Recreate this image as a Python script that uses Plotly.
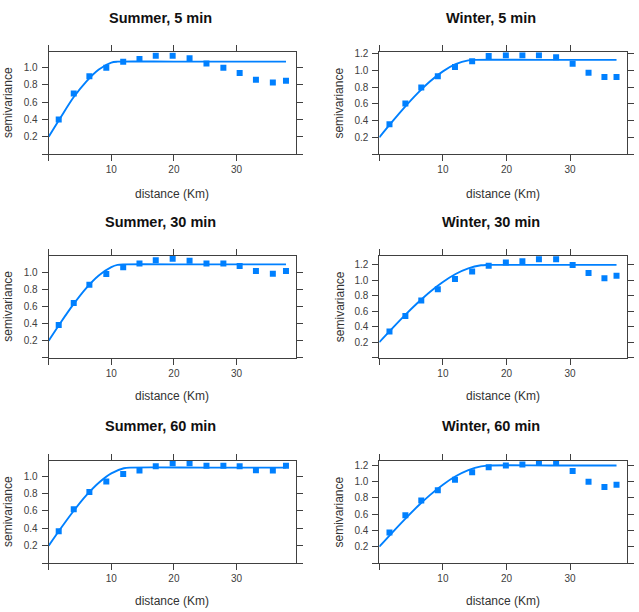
import plotly.graph_objects as go

# ---- data ----
titles = ["Summer, 5 min", "Winter, 5 min",
          "Summer, 30 min", "Winter, 30 min",
          "Summer, 60 min", "Winter, 60 min"]

dist_summer = [1.6, 4.0, 6.5, 9.2, 11.9, 14.5, 17.1, 19.8, 22.5, 25.2, 27.9, 30.5, 33.1, 35.8, 37.9]
dist_winter = [1.6, 4.1, 6.6, 9.2, 11.9, 14.6, 17.2, 19.9, 22.5, 25.1, 27.8, 30.4, 32.9, 35.4, 37.3]

s5 = [0.40, 0.70, 0.90, 1.00, 1.07, 1.10, 1.14, 1.14, 1.11, 1.05, 1.00, 0.94, 0.86, 0.83, 0.85]
w5 = [0.355, 0.605, 0.795, 0.93, 1.04, 1.11, 1.17, 1.18, 1.18, 1.18, 1.156, 1.08, 0.97, 0.92, 0.92]
s30 = [0.385, 0.644, 0.857, 0.985, 1.062, 1.108, 1.147, 1.162, 1.139, 1.108, 1.108, 1.077, 1.019, 0.988, 1.019]
w30 = [0.34, 0.54, 0.74, 0.885, 1.017, 1.115, 1.19, 1.23, 1.247, 1.272, 1.272, 1.2, 1.094, 1.026, 1.06]
s60 = [0.365, 0.621, 0.82, 0.939, 1.027, 1.065, 1.115, 1.149, 1.149, 1.122, 1.122, 1.115, 1.069, 1.065, 1.122]
w60 = [0.375, 0.586, 0.765, 0.891, 1.021, 1.111, 1.172, 1.196, 1.208, 1.224, 1.224, 1.127, 0.997, 0.932, 0.96]

# fitted model lines
s5_line_x = [0, 2, 4, 6, 8, 10, 11, 20, 37.9]
s5_line_y = [0.2, 0.435, 0.66, 0.84, 0.98, 1.06, 1.07, 1.07, 1.07]
w5_line_x = [0, 2, 4, 6, 8, 10, 12, 14, 15, 25, 37.3]
w5_line_y = [0.2, 0.384, 0.561, 0.725, 0.87, 0.988, 1.073, 1.119, 1.125, 1.125, 1.125]
s30_line_x = [0, 2, 4, 6, 8, 10, 11, 12, 24, 37.9]
s30_line_y = [0.2, 0.423, 0.633, 0.819, 0.967, 1.065, 1.091, 1.097, 1.097, 1.097]
w30_line_x = [0, 2, 4, 6, 8, 10, 12, 14, 16, 17, 27, 37.3]
w30_line_y = [0.2, 0.376, 0.547, 0.707, 0.854, 0.98, 1.083, 1.156, 1.195, 1.2, 1.2, 1.2]
s60_line_x = [0, 2, 4, 6, 8, 10, 12, 13, 25, 37.9]
s60_line_y = [0.2, 0.406, 0.602, 0.779, 0.926, 1.034, 1.092, 1.1, 1.1, 1.1]
w60_line_x = [0, 2, 4, 6, 8, 10, 12, 14, 16, 17.5, 27, 37.3]
w60_line_y = [0.2, 0.37, 0.535, 0.692, 0.835, 0.96, 1.063, 1.139, 1.184, 1.195, 1.195, 1.195]

x_ticks = [0, 10, 20, 30]
x_ticktext = ["", "10", "20", "30"]

panels = [
    (dist_summer, s5, s5_line_x, s5_line_y, 39.5, 1.18, [0, 0.2, 0.4, 0.6, 0.8, 1.0]),
    (dist_winter, w5, w5_line_x, w5_line_y, 38.9, 1.217, [0, 0.2, 0.4, 0.6, 0.8, 1.0, 1.2]),
    (dist_summer, s30, s30_line_x, s30_line_y, 39.5, 1.2, [0, 0.2, 0.4, 0.6, 0.8, 1.0]),
    (dist_winter, w30, w30_line_x, w30_line_y, 38.9, 1.32, [0, 0.2, 0.4, 0.6, 0.8, 1.0, 1.2]),
    (dist_summer, s60, s60_line_x, s60_line_y, 39.5, 1.176, [0, 0.2, 0.4, 0.6, 0.8, 1.0]),
    (dist_winter, w60, w60_line_x, w60_line_y, 38.9, 1.25, [0, 0.2, 0.4, 0.6, 0.8, 1.0, 1.2]),
]

# ---- layout geometry (pixels) ----
W, H = 639, 612
col_box = [(48.7, 296.0), (379.3, 626.7)]
row_box = [(48.5, 151.0), (253.3, 356.0), (460.0, 562.7)]
title_x = [160.0, 490.5]
title_y = [14.3, 219.2, 425.0]
xtitle_y = [190.8, 395.0, 601.3]
ytitle_x = [8.0, 339.5]

BLUE = "#0080ff"
AX = "#404040"
FONT = "Liberation Sans, Arial, sans-serif"

fig = go.Figure()
layout = dict(width=W, height=H, margin=dict(l=0, r=0, t=0, b=0),
              paper_bgcolor="white", plot_bgcolor="white", showlegend=False,
              font=dict(family=FONT, size=10, color=AX))
annotations = []

for i, (dx, dy, lx, ly, xmax, ymax, yt) in enumerate(panels):
    r, c = divmod(i, 2)
    n = "" if i == 0 else str(i + 1)
    xa, ya = "x" + n, "y" + n
    x0, x1 = col_box[c]
    y0, y1 = row_box[r]
    fig.add_trace(go.Scatter(x=lx, y=ly, mode="lines", xaxis=xa, yaxis=ya,
                             line=dict(color=BLUE, width=1.9, shape="spline", smoothing=0.8),
                             hoverinfo="skip"))
    fig.add_trace(go.Scatter(x=dx, y=dy, mode="markers", xaxis=xa, yaxis=ya,
                             marker=dict(symbol="square", size=6, color=BLUE,
                                         line=dict(width=0))))
    common = dict(showline=True, linecolor=AX, linewidth=1, mirror="ticks",
                  ticks="outside", ticklen=6, tickcolor=AX, tickwidth=1,
                  showgrid=False, zeroline=False,
                  tickfont=dict(family=FONT, size=10, color=AX))
    layout["xaxis" + n] = dict(common, domain=[x0 / W, x1 / W], anchor=ya,
                               range=[0, xmax], tickmode="array",
                               tickvals=x_ticks, ticktext=x_ticktext,
                               ticklabelstandoff=0)
    layout["yaxis" + n] = dict(common, domain=[1 - y1 / H, 1 - y0 / H], anchor=xa,
                               range=[0, ymax], tickmode="array",
                               tickvals=yt,
                               ticktext=["" if v == 0 else f"{v:.1f}" for v in yt],
                               ticklabelstandoff=2)
    annotations.append(dict(text="<b>" + titles[i] + "</b>", xref="paper", yref="paper",
                            x=title_x[c] / W, y=1 - title_y[r] / H,
                            xanchor="center", yanchor="middle", showarrow=False,
                            font=dict(family=FONT, size=14.5, color="#111111")))
    annotations.append(dict(text="distance (Km)", xref="paper", yref="paper",
                            x=(x0 + x1) / 2 / W, y=1 - xtitle_y[r] / H,
                            xanchor="center", yanchor="middle", showarrow=False,
                            font=dict(family=FONT, size=12, color="#333333")))
    annotations.append(dict(text="semivariance", xref="paper", yref="paper",
                            x=ytitle_x[c] / W, y=1 - (y0 + y1) / 2 / H,
                            xanchor="center", yanchor="middle", showarrow=False,
                            textangle=-90,
                            font=dict(family=FONT, size=12, color="#333333")))

layout["annotations"] = annotations
fig.update_layout(**layout)
fig.write_html("out.html")
